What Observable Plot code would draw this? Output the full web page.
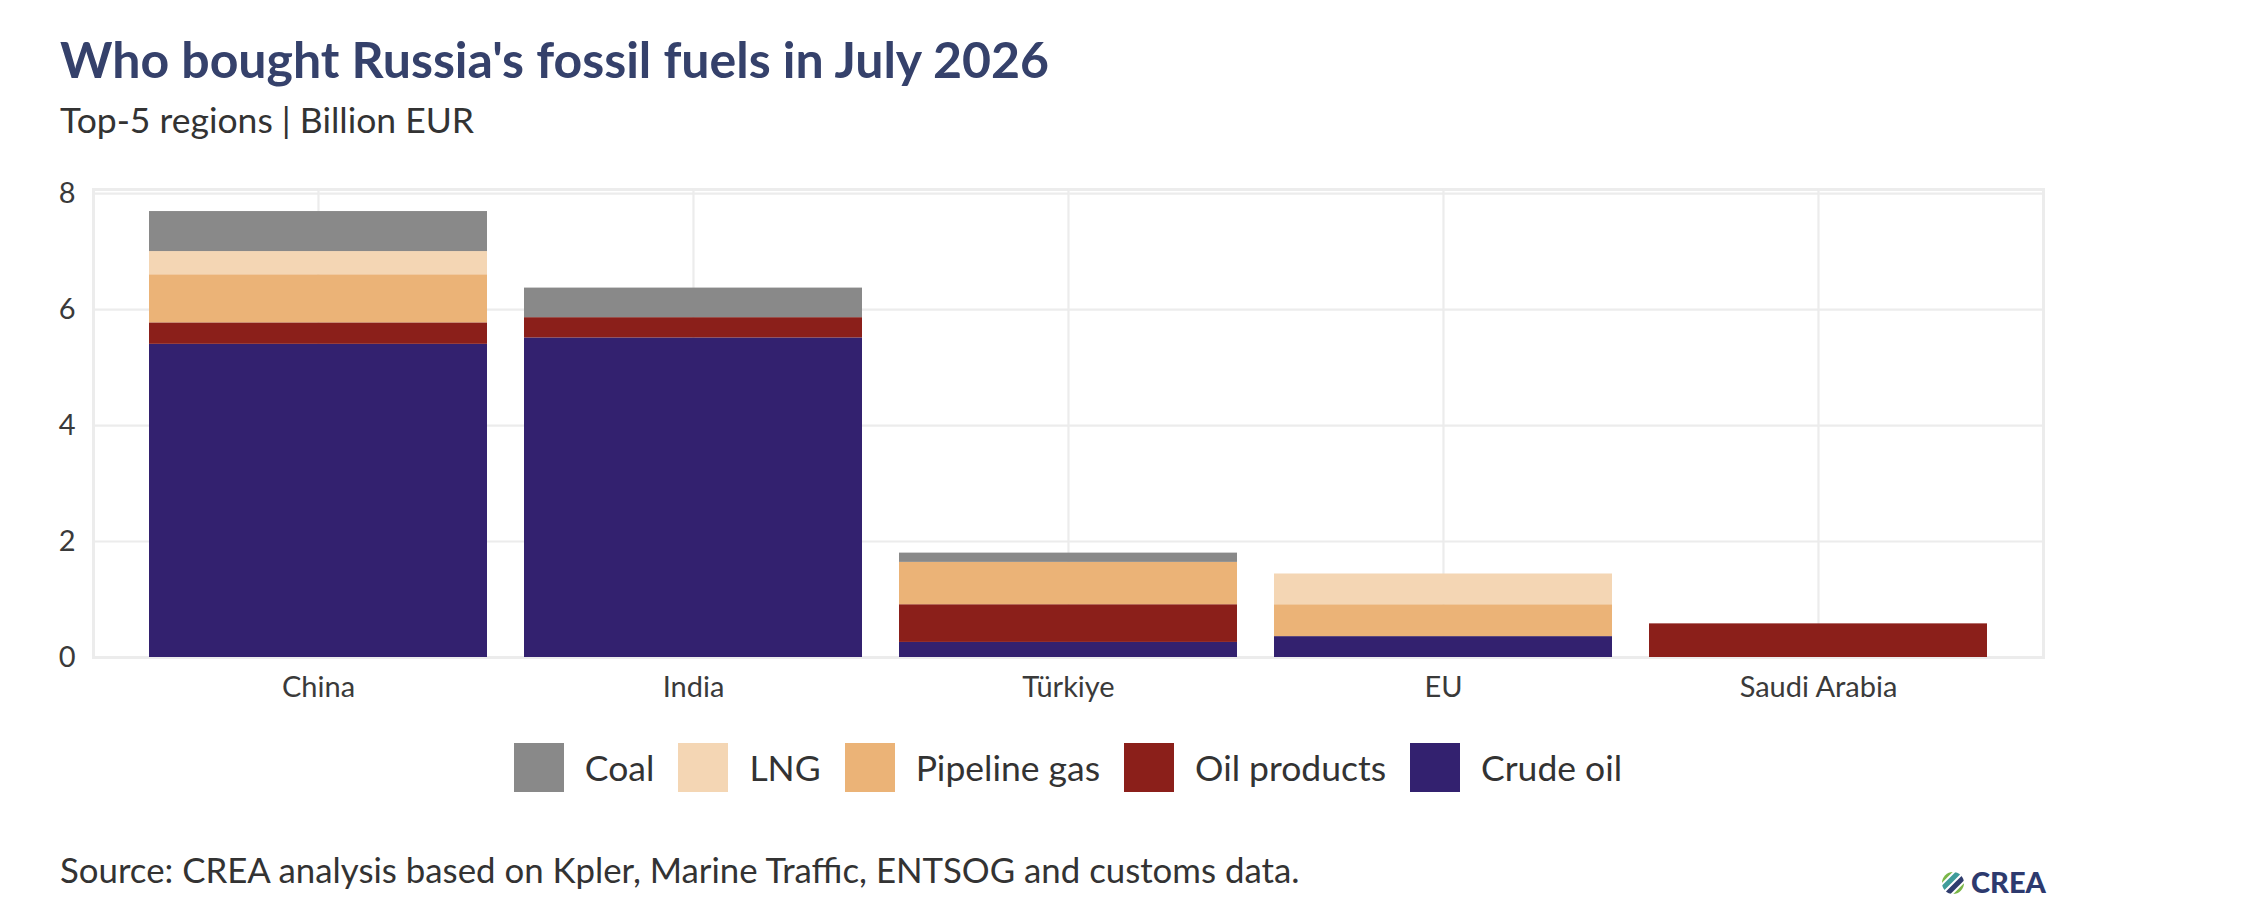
<!DOCTYPE html>
<html>
<head>
<meta charset="utf-8">
<script src="https://cdn.jsdelivr.net/npm/d3@7"></script>
<script src="https://cdn.jsdelivr.net/npm/@observablehq/plot@0.6"></script>
<style>
  html, body { margin: 0; padding: 0; background: #fff; }
  #page { position: relative; width: 2248px; height: 918px; overflow: hidden; font-family: Lato, "Noto Sans", sans-serif; }
  #overlay { position: absolute; left: 0; top: 0; }
  #chart { position: absolute; left: 0; top: 150px; }
  #legend { position: absolute; left: 93px; width: 1950px; top: 743px; height: 49px; display: flex; justify-content: center; align-items: center; }
  .item { display: flex; align-items: center; margin: 0 12px; }
  .sw { width: 50px; height: 49px; margin-right: 21px; }
  .lab { font-size: 35.5px; color: #333; }
</style>
</head>
<body>
<div id="page">
  <div id="chart"></div>
  <div id="legend"></div>
  <svg id="overlay" width="2248" height="918"></svg>
</div>
<script>
// ---- data ----
const regions = ["China", "India", "Türkiye", "EU", "Saudi Arabia"];
const crudeOil    = [5.40, 5.51, 0.26, 0.36, 0.00];
const oilProducts = [0.37, 0.35, 0.65, 0.00, 0.58];
const pipelineGas = [0.83, 0.00, 0.73, 0.55, 0.00];
const lng         = [0.40, 0.00, 0.00, 0.53, 0.00];
const coal        = [0.69, 0.51, 0.16, 0.00, 0.00];
const yTicks = [0, 2, 4, 6, 8];
const fuelsBottomUp = ["Crude oil", "Oil products", "Pipeline gas", "LNG", "Coal"];
const legendOrder = ["Coal", "LNG", "Pipeline gas", "Oil products", "Crude oil"];
const fuelColors = {
  "Coal": "#898989",
  "LNG": "#f4d6b4",
  "Pipeline gas": "#ebb377",
  "Oil products": "#8b1f1a",
  "Crude oil": "#33216f"
};
const titleText = "Who bought Russia's fossil fuels in July 2026";
const subtitleText = "Top-5 regions | Billion EUR";
const captionText = "Source: CREA analysis based on Kpler, Marine Traffic, ENTSOG and customs data.";

const seriesByFuel = {
  "Crude oil": crudeOil,
  "Oil products": oilProducts,
  "Pipeline gas": pipelineGas,
  "LNG": lng,
  "Coal": coal
};
const rows = [];
regions.forEach((r, i) => {
  fuelsBottomUp.forEach(f => {
    const v = seriesByFuel[f][i];
    if (v > 0) rows.push({region: r, fuel: f, value: v});
  });
});

const gridColor = "#ececec";
const chart = Plot.plot({
  width: 2248,
  height: 570,
  marginTop: 39,
  marginBottom: 63,
  marginLeft: 93,
  marginRight: 205,
  style: {fontFamily: "Lato, 'Noto Sans', sans-serif", fontSize: "29px", color: "#3a3a3a", background: "transparent"},
  x: {domain: regions, paddingInner: 0.1, paddingOuter: 0.15, label: null},
  y: {domain: [0, 8.07], label: null},
  color: {domain: legendOrder, range: legendOrder.map(f => fuelColors[f])},
  marks: [
    Plot.frame({stroke: gridColor, strokeWidth: 3}),
    Plot.gridY(yTicks, {stroke: gridColor, strokeOpacity: 1, strokeWidth: 2.2}),
    Plot.gridX({stroke: gridColor, strokeOpacity: 1, strokeWidth: 2.2}),
    Plot.barY(rows, {x: "region", y: "value", fill: "fuel", order: fuelsBottomUp}),
    Plot.axisX({tickSize: 0, tickPadding: 19, fontSize: 29, fill: "#3a3a3a"}),
    Plot.axisY(yTicks, {tickSize: 0, tickPadding: 18, fontSize: 29, fill: "#3a3a3a", tickFormat: d => String(d)})
  ]
});
document.getElementById("chart").appendChild(chart);

// legend
const legend = document.getElementById("legend");
legendOrder.forEach(f => {
  const it = document.createElement("div");
  it.className = "item";
  const sw = document.createElement("div");
  sw.className = "sw";
  sw.style.background = fuelColors[f];
  const lab = document.createElement("span");
  lab.className = "lab";
  lab.textContent = f;
  it.appendChild(sw); it.appendChild(lab);
  legend.appendChild(it);
});

// overlay texts
const svg = d3.select("#overlay");
svg.append("text").attr("x", 60).attr("y", 78)
  .attr("font-family", "Lato, sans-serif").attr("font-weight", 700).attr("font-size", 50)
  .attr("fill", "#35416b").text(titleText);
svg.append("text").attr("x", 60).attr("y", 133)
  .attr("font-family", "Lato, sans-serif").attr("font-size", 35.5)
  .attr("fill", "#333").text(subtitleText);
svg.append("text").attr("x", 60).attr("y", 883)
  .attr("font-family", "Lato, sans-serif").attr("font-size", 34.8)
  .attr("fill", "#333").text(captionText);

// logo
const logo = svg.append("g").attr("transform", "translate(1953,883)");
const clip = svg.append("defs").append("clipPath").attr("id", "lc");
clip.append("circle").attr("cx", 0).attr("cy", 0).attr("r", 11);
const lg = logo.append("g").attr("clip-path", "url(#lc)");
[["#7ab648", -10], ["#3f9c9a", -3], ["#2f3c6e", 4], ["#7ab648", 11]].forEach(([c, o]) => {
  lg.append("rect").attr("x", -16).attr("y", o - 3).attr("width", 32).attr("height", 5)
    .attr("fill", c).attr("transform", "rotate(-45)");
});
svg.append("text").attr("x", 1971).attr("y", 893)
  .attr("font-family", "Lato, sans-serif").attr("font-weight", 900).attr("font-size", 29)
  .attr("fill", "#2d3a6e").text("CREA");
</script>
</body>
</html>
